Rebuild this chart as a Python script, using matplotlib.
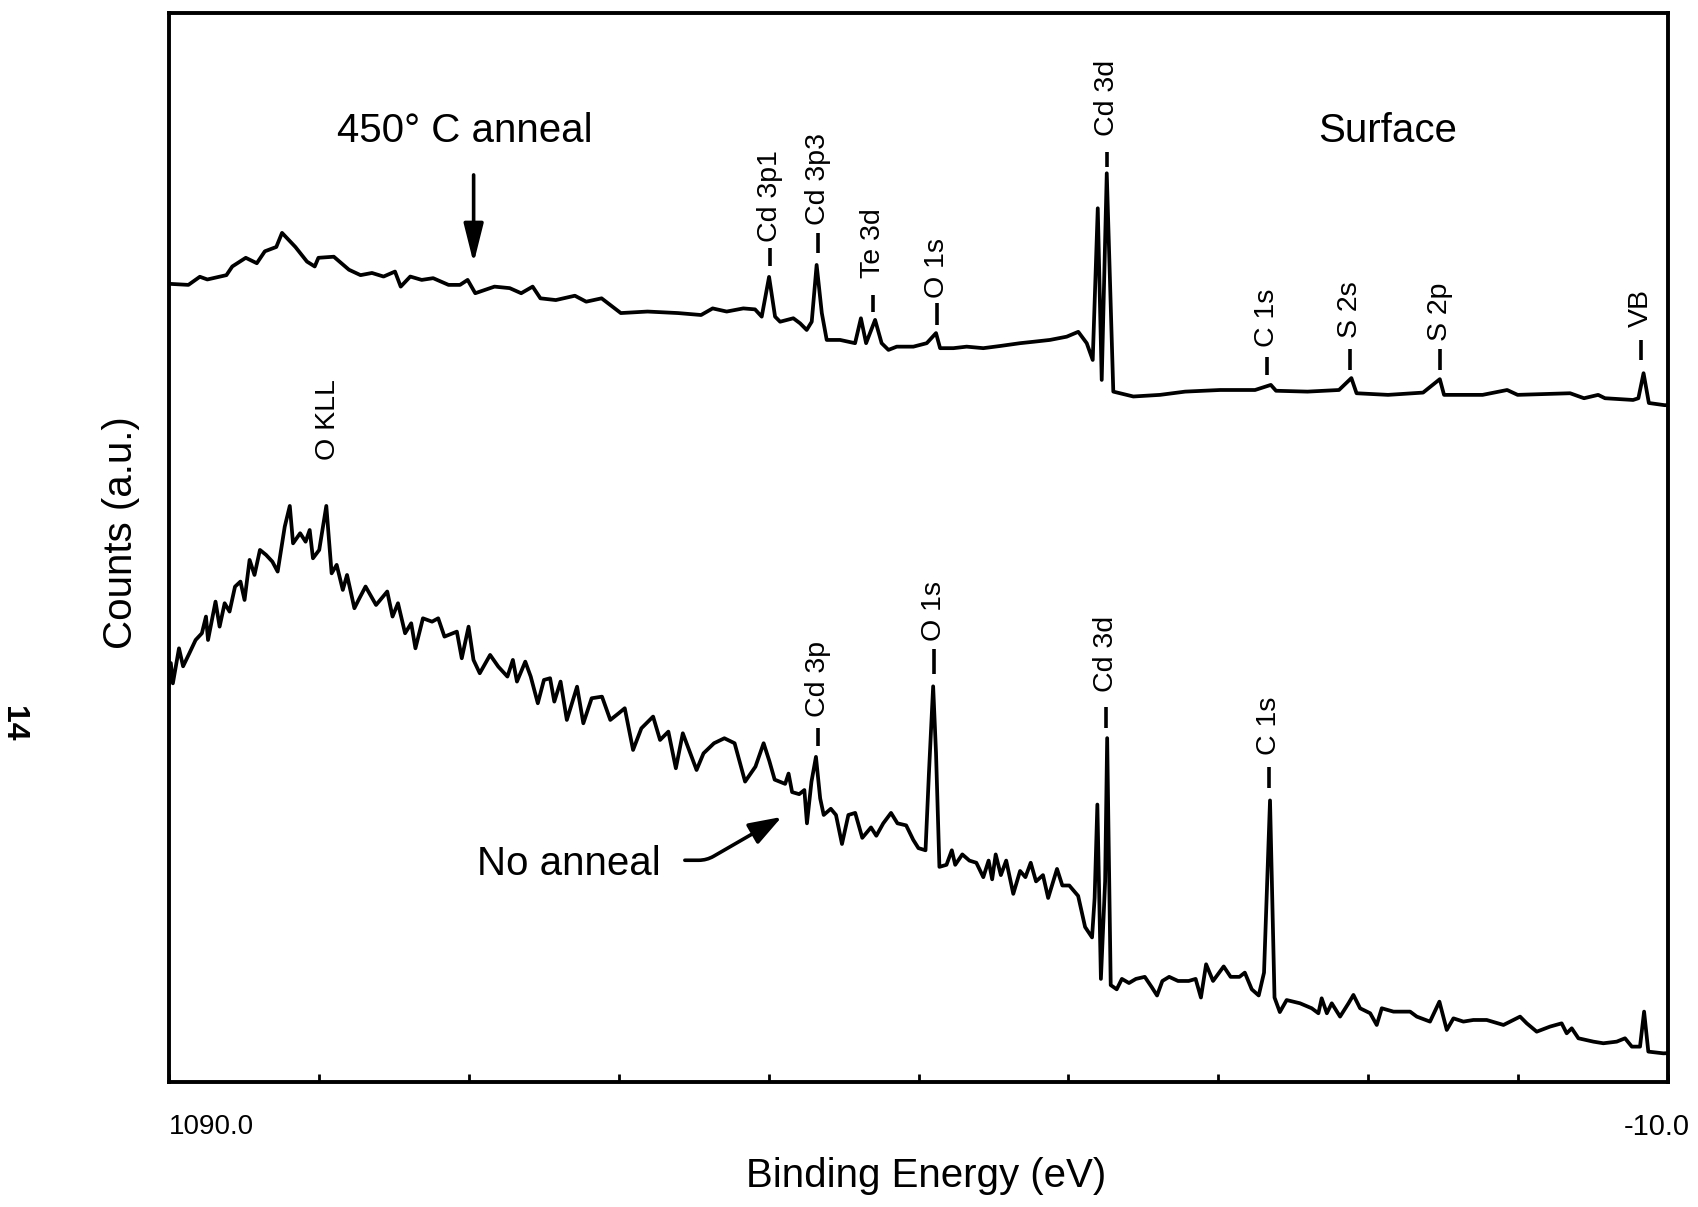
import matplotlib
matplotlib.use('Agg')
import matplotlib.pyplot as plt

plt.rcParams['font.family'] = ['Liberation Sans', 'DejaVu Sans']

# 450 C anneal spectrum, binding energy (eV) vs counts (a.u.)
top_E = [1090.0, 1075.8, 1067.4, 1061.9, 1047.9, 1043.6, 1033.7, 1025.6, 1019.7, 1011.3,
         1007.1, 997.3, 988.8, 983.1, 980.4, 969.1, 958.0, 949.5, 941.1, 932.6,
         924.2, 920.0, 913.0, 904.6, 896.2, 884.9, 876.5, 870.9, 865.3, 851.2,
         840.0, 831.6, 823.2, 817.5, 806.2, 792.2, 783.9, 772.6, 758.5, 738.9,
         716.5, 699.6, 691.1, 680.8, 668.6, 660.0, 655.1, 649.7, 645.3, 641.6,
         631.9, 626.9, 622.1, 618.4, 614.8, 611.0, 607.4, 597.6, 586.6, 582.3,
         578.5, 571.9, 567.1, 562.1, 556.0, 543.8, 534.0, 527.2, 524.2, 514.4,
         504.7, 492.5, 480.2, 465.5, 455.8, 443.6, 431.3, 422.8, 416.6, 412.2,
         408.5, 405.6, 401.9, 397.1, 382.4, 362.8, 344.4, 318.8, 293.1, 281.5,
         277.7, 254.6, 231.5, 222.4, 218.6, 195.5, 169.8, 157.5, 154.4, 126.1,
         108.1, 100.4, 61.9, 51.7, 41.3, 36.3, 15.7, 11.8, 8.0, 4.1,
         -7.4, -10.0]
top_c = [738, 737, 744.5, 742, 746, 754, 762, 757, 768, 772,
         785, 772, 758.5, 754, 762, 763, 751, 746, 748, 744.7,
         749.3, 735.4, 744.7, 741.6, 743.2, 737, 737, 741.6, 729.3, 735.4,
         734, 729.3, 735.4, 724.6, 723, 727, 721.5, 724.6, 711, 712.4,
         711, 709.2, 715.3, 712.4, 715.3, 714.4, 707.7, 744.4, 707.7, 703,
         706.2, 701.5, 695.4, 703, 755.4, 711, 686.2, 686.2, 683.2, 706.2,
         683.2, 704.7, 683.2, 677, 680, 680, 683.2, 692.5, 678.6, 678.6,
         680, 678.6, 680.6, 683.2, 684.5, 686.2, 689.2, 693.7, 683.2, 667.7,
         807.7, 649.3, 840, 638.5, 634, 635.5, 638.5, 640, 640, 644.7,
         639.3, 638.5, 640, 651, 637, 635.5, 637.6, 650, 635.5, 635.5,
         640, 635.5, 637, 632.4, 635.5, 632.4, 630.8, 632.4, 655.5, 628,
         626, 626]

# no anneal spectrum
bot_E = [1090.0, 1088.7, 1087.2, 1082.7, 1079.7, 1075.1, 1070.5, 1065.9, 1062.9, 1061.4,
         1055.9, 1052.9, 1049.2, 1045.6, 1041.6, 1037.6, 1034.6, 1030.9, 1027.3, 1023.3,
         1018.8, 1014.2, 1010.3, 1005.1, 1001.4, 999.0, 993.8, 989.8, 986.8, 984.4,
         979.8, 974.6, 970.7, 967.0, 962.5, 959.4, 954.0, 950.3, 945.8, 938.1,
         929.9, 926.0, 922.0, 916.8, 912.3, 909.2, 903.7, 897.0, 892.5, 887.9,
         878.8, 875.2, 870.2, 866.6, 862.0, 854.4, 848.4, 841.7, 837.7, 834.7,
         828.6, 824.6, 819.4, 814.9, 810.4, 807.3, 802.7, 798.1, 790.6, 786.0,
         779.9, 772.3, 766.2, 760.1, 755.6, 749.5, 743.4, 734.8, 729.7, 723.6,
         718.1, 713.0, 702.9, 697.8, 690.1, 682.5, 675.0, 667.3, 659.7, 653.7,
         649.5, 645.6, 637.9, 635.4, 632.8, 627.6, 623.8, 621.9, 618.6, 615.3,
         612.2, 609.6, 604.4, 600.6, 596.2, 591.5, 586.5, 581.3, 574.9, 571.0,
         565.9, 560.2, 555.5, 549.1, 543.9, 540.1, 534.9, 532.4, 529.3, 527.2,
         524.7, 519.5, 515.6, 513.1, 507.9, 502.7, 497.6, 492.5, 488.6, 486.0,
         483.4, 479.6, 475.7, 470.5, 465.5, 461.6, 457.7, 453.8, 448.7, 444.9,
         438.4, 434.5, 429.4, 422.9, 417.8, 412.7, 410.8, 408.8, 406.2, 403.1,
         401.6, 399.0, 394.6, 390.8, 385.6, 380.5, 374.0, 368.9, 365.0, 361.1,
         356.1, 349.6, 341.8, 336.7, 332.8, 329.0, 323.9, 316.1, 311.0, 304.5,
         300.6, 295.5, 290.4, 286.5, 282.1, 278.8, 274.9, 269.9, 260.1, 251.5,
         246.6, 244.2, 240.4, 236.8, 230.7, 224.5, 220.9, 216.0, 208.6, 203.8,
         200.1, 191.5, 179.3, 174.4, 164.7, 157.8, 152.4, 147.5, 140.2, 132.9,
         123.1, 110.8, 98.6, 93.7, 86.4, 76.6, 68.1, 64.4, 60.7, 55.8,
         44.8, 37.5, 27.7, 21.6, 16.6, 10.6, 7.6, 4.5, -6.6, -10.0]
bot_c = [369, 388, 369.3, 401.6, 385, 397, 409.3, 415.5, 430.9, 409.3,
         444.7, 421.6, 443.2, 435.5, 458.5, 463.2, 446.2, 483.2, 469.3, 492.4,
         487.8, 481.6, 472.4, 513.9, 533, 498.5, 507.8, 500, 510.8, 484.7,
         492.4, 533, 470.8, 478.6, 455.5, 469.3, 438.6, 447.8, 458.6, 441.6,
         454, 430.9, 443.2, 415.5, 424.7, 401.6, 429.3, 426.2, 429.3, 412.4,
         417, 392.4, 421.6, 390.9, 378.6, 395.5, 384.7, 375.5, 390.9, 370.9,
         389.3, 375.5, 350.9, 372.4, 374, 352.4, 370.9, 335.5, 366.2, 332.4,
         355.5, 357, 335.5, 341.6, 346.3, 307.8, 327.8, 338.6, 317, 324.7,
         290.9, 323.2, 289.3, 304.7, 314, 318.6, 314, 278.6, 292.4, 314,
         297.6, 280.4, 276.5, 286, 268.9, 267, 270.8, 240.1, 278.4, 301.4,
         263.1, 247.8, 253.5, 247.8, 221, 247.8, 249.7, 226.7, 236.3, 228.6,
         240.1, 249.7, 240.1, 238.2, 224.8, 217.2, 215.2, 286.1, 366.5, 305.2,
         199.9, 201.8, 215.2, 201.8, 211.4, 205.7, 203.7, 190.4, 205.7, 188.4,
         211.4, 192.3, 205.7, 175, 196.1, 190.4, 203.7, 186.5, 192.3, 171.2,
         198, 182.7, 182.7, 173.1, 144.4, 134.8, 171.2, 257.4, 96.5, 186.5,
         318.7, 90.8, 86.9, 96.5, 92.7, 96.5, 98.4, 88.9, 81.2, 94.6,
         98.4, 94.6, 94.6, 96.5, 79.3, 110, 94.6, 108, 98.4, 98.4,
         102.3, 86.9, 81.2, 102.3, 261.2, 79.3, 65.9, 77, 74, 69.4,
         64.8, 78.6, 64.8, 74, 61.7, 74, 81.7, 69.4, 64.8, 54,
         69.4, 66.3, 66.3, 61.7, 57.1, 75.5, 49.4, 60.1, 57.1, 58.6,
         58.6, 54, 61.7, 55.5, 47.8, 52.5, 55.5, 46.3, 50.9, 41.7,
         38.6, 37.1, 38.6, 41.7, 34, 34, 66.3, 29.4, 27.8, 28]

# peak labels: name, energy, text base, dash (top, bottom)
top_names = ['Cd 3p1', 'Cd 3p3', 'Te 3d', 'O 1s', 'Cd 3d', 'C 1s', 'S 2s', 'S 2p', 'VB']
top_pos = [649.0, 613.5, 573.3, 526.7, 401.9, 284.1, 223.7, 157.5, 10.1]
top_txt = [777, 792, 743, 725, 874, 680, 688, 685, 698]
top_dash = [(771, 754), (785, 766), (728, 712), (720, 700), (860, 846),
            (670, 654), (678, 658), (678, 658), (686, 668)]

bot_names = ['O KLL', 'Cd 3p', 'O 1s', 'Cd 3d', 'C 1s']
bot_pos = [973.4, 613.7, 528.5, 402.3, 282.7]
bot_txt = [575.5, 338, 408.7, 361, 303.3]
bot_dash = [None, (328, 311), (401, 378), (347, 328), (292, 273)]

tick_E = [1090, 980, 870, 760, 650, 540, 430, 320, 210, 100, -10]

fig = plt.figure(figsize=(16.99, 12.07), dpi=100)
ax = fig.add_axes([0.0995, 0.1036, 0.8823, 0.8857])

ax.plot(top_E, top_c, color='black', lw=2.7, solid_joinstyle='round')
ax.plot(bot_E, bot_c, color='black', lw=2.7, solid_joinstyle='round')

ax.set_xlim(1090, -10)
ax.set_ylim(1.4, 988)

for sp in ax.spines.values():
    sp.set_linewidth(2.8)
ax.set_xticks(tick_E)
ax.set_xticklabels([])
ax.set_yticks([])
ax.tick_params(axis='x', direction='in', length=6, width=2)

lab_fs = 20.5
for name, e, t, d in zip(top_names + bot_names, top_pos + bot_pos,
                         top_txt + bot_txt, top_dash + bot_dash):
    ax.text(e, t, name, rotation=90, ha='center', va='bottom', fontsize=lab_fs)
    if d is not None:
        ax.plot([e, e], d, color='black', lw=2.6, solid_capstyle='butt')

big = 29
ax.text(873.3, 879, '450° C anneal', ha='center', va='center', fontsize=big)
ax.text(195.5, 879, 'Surface', ha='center', va='center', fontsize=big)
ax.text(796.6, 203, 'No anneal', ha='center', va='center', fontsize=big)

ax.annotate('', xy=(866.5, 757), xytext=(866.5, 838.5),
            arrowprops=dict(arrowstyle='-|>,head_length=2.4,head_width=0.6',
                            color='black', lw=2.6, shrinkA=0, shrinkB=0))
ax.annotate('', xy=(640.4, 246), xytext=(711.5, 206),
            arrowprops=dict(arrowstyle='-|>,head_length=2.0,head_width=0.7',
                            connectionstyle='angle,angleA=0,angleB=30,rad=8',
                            color='black', lw=2.6, shrinkA=0, shrinkB=0))

# axis end labels and titles
ax.text(1090, -0.042, '1090.0', transform=ax.get_xaxis_transform(),
        ha='left', va='center', fontsize=20)
ax.text(-26, -0.042, '-10.0', transform=ax.get_xaxis_transform(),
        ha='right', va='center', fontsize=21)
ax.text(0.505, -0.0876, 'Binding Energy (eV)', transform=ax.transAxes,
        ha='center', va='center', fontsize=big)
ax.text(-0.032, 0.5136, 'Counts (a.u.)', transform=ax.transAxes, rotation=90,
        ha='center', va='center', fontsize=big)
ax.text(-0.104, 0.335, '14', transform=ax.transAxes, rotation=-90,
        ha='center', va='center', fontsize=23, fontweight='bold')

fig.savefig('out.png', dpi=100)
